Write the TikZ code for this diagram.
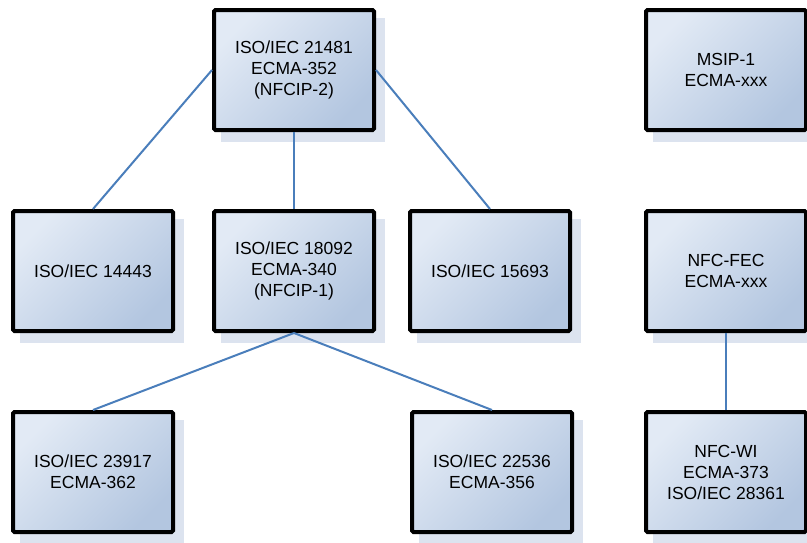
\documentclass[tikz,border=0pt]{standalone}
\usepackage{fontspec}
\setmainfont{Liberation Sans}
\definecolor{boxlight}{HTML}{E2EAF5}
\definecolor{boxdark}{HTML}{B3C6E0}
\definecolor{shadowfill}{HTML}{DCE3EF}
\definecolor{linkblue}{HTML}{4A7EBB}
\tikzset{
  stdbox/.style={draw=black, line width=4pt, rounded corners=1.5pt,
    minimum width=160pt, minimum height=120pt, inner sep=0pt,
    top color=boxlight, bottom color=boxdark, shading angle=45,
    align=center, font=\fontsize{17.5pt}{21pt}\selectfont, text=black},
  boxshadow/.style={fill=shadowfill},
  link/.style={draw=linkblue, line width=2pt}
}
\begin{document}
\begin{tikzpicture}[x=1pt,y=-1pt]
  \useasboundingbox (0,0) rectangle (807,542);
  \begin{scope}
  \clip (0,0) rectangle (807,542);
  % drop shadows behind each box
  \foreach \cx/\cy in {294/70, 726/70, 93/271, 294/271, 490/271, 726/271, 93/472, 492/472, 726/472}{
    \fill[boxshadow] (\cx-73,\cy-52) rectangle (\cx+91,\cy+72);
  }
  % boxes
  \node[stdbox] (iso21481) at (294,70)  {ISO/IEC 21481\\ECMA-352\\(NFCIP-2)};
  \node[stdbox] (msip)     at (726,70)  {MSIP-1\\ECMA-xxx};
  \node[stdbox] (iso14443) at (93,271)  {ISO/IEC 14443};
  \node[stdbox] (iso18092) at (294,271) {ISO/IEC 18092\\ECMA-340\\(NFCIP-1)};
  \node[stdbox] (iso15693) at (490,271) {ISO/IEC 15693};
  \node[stdbox] (nfcfec)   at (726,271) {NFC-FEC\\ECMA-xxx};
  \node[stdbox] (iso23917) at (93,472)  {ISO/IEC 23917\\ECMA-362};
  \node[stdbox] (iso22536) at (492,472) {ISO/IEC 22536\\ECMA-356};
  \node[stdbox] (nfcwi)    at (726,472) {NFC-WI\\ECMA-373\\ISO/IEC 28361};
  % connectors
  \draw[link] (iso21481.west) -- (iso14443.north);
  \draw[link] (iso21481.east) -- (iso15693.north);
  \draw[link] (iso21481.south) -- (iso18092.north);
  \draw[link] (iso18092.south) -- (iso23917.north);
  \draw[link] (iso18092.south) -- (iso22536.north);
  \draw[link] (nfcfec.south) -- (nfcwi.north);
  \end{scope}
\end{tikzpicture}
\end{document}
